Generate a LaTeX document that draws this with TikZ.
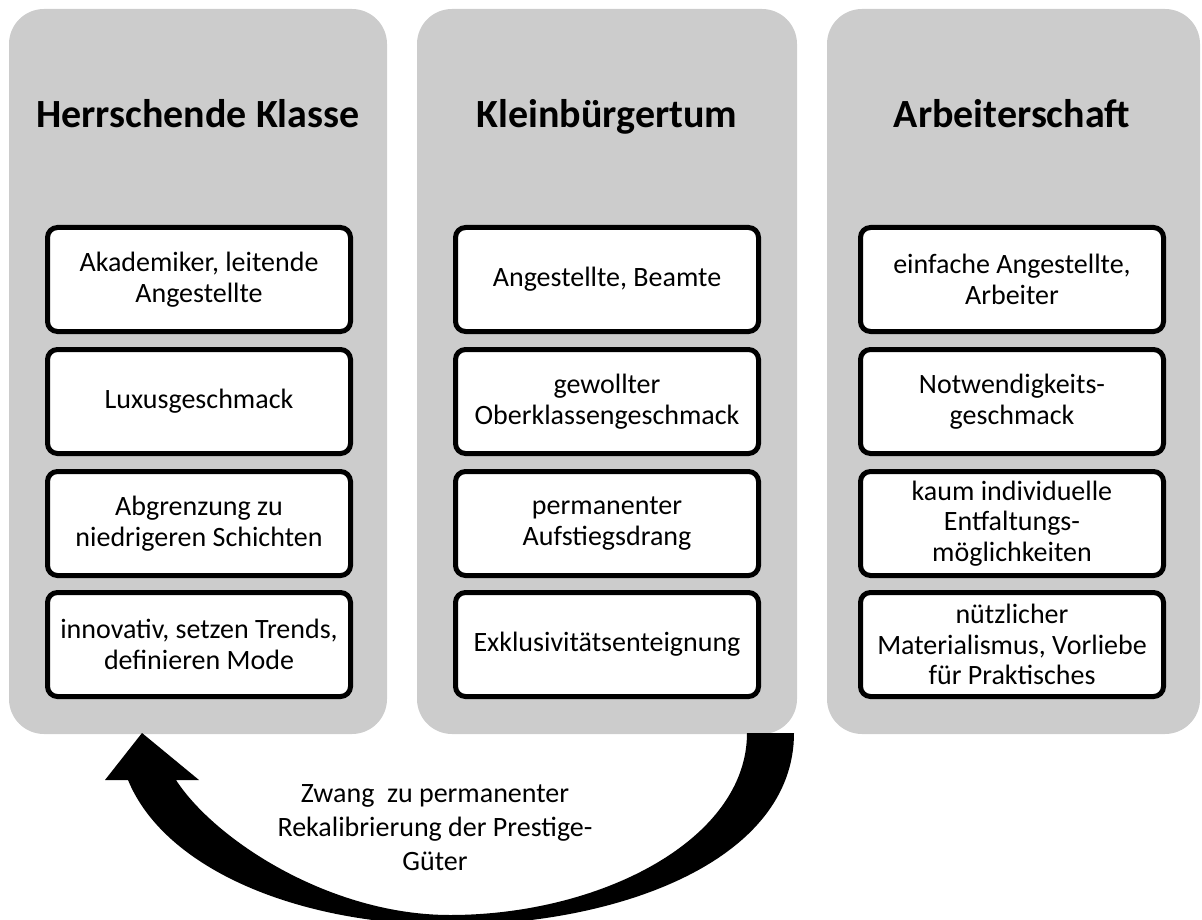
\documentclass[tikz,border=0pt]{standalone}
\usepackage{fontspec}
\setmainfont{Carlito}
\definecolor{panelgray}{HTML}{CCCCCC}
\begin{document}
\begin{tikzpicture}[x=1pt,y=-1pt,
  panel/.style={fill=panelgray, rounded corners=35pt, inner sep=0pt},
  itembox/.style={draw=black, line width=5pt, fill=white, rounded corners=10pt,
    minimum width=303pt, minimum height=104pt, inner sep=0pt, align=center,
    font=\fontsize{28}{30.5}\selectfont},
  heading/.style={font=\bfseries\fontsize{40}{48}\selectfont, anchor=base},
  caption/.style={align=center, font=\fontsize{28}{34}\selectfont},
  bigarrow/.style={fill=black}]
\useasboundingbox (0,0) rectangle (1202,920);
\clip (0,0) rectangle (1202,920);

% three class columns
\node[panel, minimum width=378pt, minimum height=725pt] (pL) at (198,371.5) {};
\node[panel, minimum width=380pt, minimum height=725pt] (pM) at (607,371.5) {};
\node[panel, minimum width=373pt, minimum height=725pt] (pR) at (1013.5,371.5) {};

\node[heading] (tL) at (198,128) {Herrschende Klasse};
\node[heading] (tM) at (607,128) {Kleinbürgertum};
\node[heading] (tR) at (1012,128) {Arbeiterschaft};

% left column
\node[itembox] (l1) at (199,279.5) {Akademiker, leitende\\Angestellte};
\node[itembox] (l2) at (199,401.5) {Luxusgeschmack};
\node[itembox] (l3) at (199,523.5) {Abgrenzung zu\\niedrigeren Schichten};
\node[itembox] (l4) at (199,644.5) {innovativ, setzen Trends,\\definieren Mode};

% middle column
\node[itembox] (m1) at (607,279.5) {Angestellte, Beamte};
\node[itembox] (m2) at (607,401.5) {gewollter\\Oberklassengeschmack};
\node[itembox] (m3) at (607,523.5) {permanenter\\Aufstiegsdrang};
\node[itembox] (m4) at (607,644.5) {Exklusivitätsenteignung};

% right column
\node[itembox] (r1) at (1012,279.5) {einfache Angestellte,\\Arbeiter};
\node[itembox] (r2) at (1012,401.5) {Notwendigkeits-\\geschmack};
\node[itembox] (r3) at (1012,523.5) {kaum individuelle\\Entfaltungs-\\möglichkeiten};
\node[itembox] (r4) at (1012,644.5) {nützlicher\\Materialismus, Vorliebe\\für Praktisches};

% curved arrow from the middle column back to the left one
\coordinate (tailO) at (794,733);
\coordinate (tailI) at (747,733);
\coordinate (shO) at (128,780);
\coordinate (shI) at (176,780);
\coordinate (hdL) at (105,780);
\coordinate (hdR) at (199,780);
\coordinate (tip) at (142,733);
\fill[bigarrow] (tailO) .. controls (794,860) and (620,925) .. (450,925)
  .. controls (300,925) and (165,870) .. (shO) -- (hdL) -- (tip) -- (hdR) -- (shI)
  .. controls (215,840) and (330,915) .. (450,915)
  .. controls (600,915) and (747,840) .. (tailI) -- cycle;

\node[caption] (cap) at (435,828) {Zwang\ \ zu permanenter\\Rekalibrierung der Prestige-\\Güter};
\end{tikzpicture}
\end{document}
